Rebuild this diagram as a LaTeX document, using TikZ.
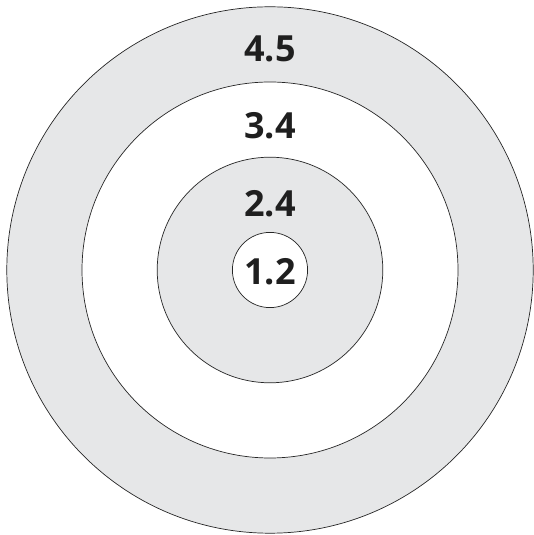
\documentclass[tikz,border=0pt]{standalone}
\usepackage{fontspec}
\setmainfont{Open Sans}
\definecolor{ringgray}{HTML}{E6E7E8}
\begin{document}
\begin{tikzpicture}[x=1pt,y=1pt,
  ring/.style={circle,draw=black!85,line width=0.7pt,inner sep=0pt},
  lbl/.style={anchor=base,font=\fontsize{36}{40}\selectfont\bfseries,text=black!88}]
\useasboundingbox (0,0) rectangle (533,535);
\node[ring,fill=ringgray,minimum size=526.4pt] (r4) at (270,265) {};
\node[ring,fill=white,minimum size=376pt] (r3) at (270,265) {};
\node[ring,fill=ringgray,minimum size=225.6pt] (r2) at (270,265) {};
\node[ring,fill=white,minimum size=75.2pt] (r1) at (270,265) {};
\node[lbl] (t4) at (270,473) {4.5};
\node[lbl] (t3) at (270,396.5) {3.4};
\node[lbl] (t2) at (270,318.5) {2.4};
\node[lbl] (t1) at (270,250) {1.2};
\end{tikzpicture}
\end{document}
